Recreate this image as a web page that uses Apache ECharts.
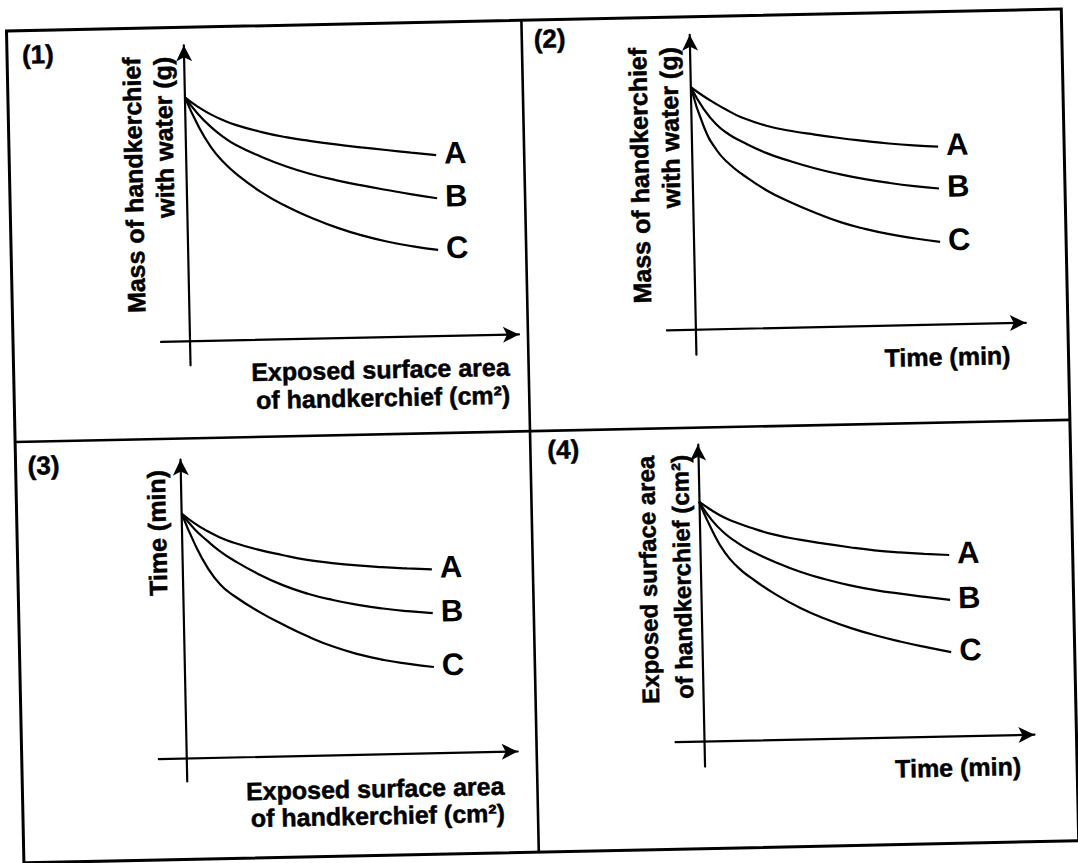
<!DOCTYPE html>
<html>
<head>
<meta charset="utf-8">
<script src="https://cdn.jsdelivr.net/npm/echarts@6/dist/echarts.min.js"></script>
<style>
html, body { margin: 0; padding: 0; background: #fff; overflow: hidden; }
#chart { width: 1078px; height: 863px; transform: rotate(-1.2deg); transform-origin: 539px 431.5px; }
</style>
</head>
<body>
<div id="chart"></div>
<script>
// ---- data (arbitrary units, every curve starts at (0, 10)) ----
const xs = [0, 0.5, 1, 1.5, 2, 3, 4, 5, 6, 7, 8, 9, 10];
const seriesNames = ['A', 'B', 'C'];

const p1A = [10, 9.61, 9.29, 9.04, 8.83, 8.52, 8.28, 8.10, 7.94, 7.80, 7.67, 7.54, 7.42];
const p1B = [10, 9.32, 8.78, 8.35, 8.00, 7.50, 7.08, 6.74, 6.47, 6.24, 6.03, 5.83, 5.65];
const p1C = [10, 8.84, 7.94, 7.30, 6.81, 6.03, 5.43, 4.94, 4.52, 4.18, 3.91, 3.70, 3.53];

const p2A = [10, 9.63, 9.30, 9.00, 8.73, 8.36, 8.12, 7.94, 7.78, 7.64, 7.51, 7.41, 7.34];
const p2B = [10, 9.10, 8.45, 8.03, 7.73, 7.23, 6.86, 6.54, 6.28, 6.06, 5.88, 5.73, 5.61];
const p2C = [10, 8.35, 7.38, 6.80, 6.38, 5.68, 5.15, 4.70, 4.30, 4.00, 3.76, 3.57, 3.41];

const p3A = [10, 9.60, 9.27, 9.00, 8.79, 8.47, 8.22, 8.00, 7.85, 7.73, 7.64, 7.57, 7.51];
const p3B = [10, 9.36, 8.87, 8.43, 8.08, 7.48, 6.99, 6.62, 6.34, 6.12, 5.95, 5.82, 5.72];
const p3C = [10, 8.75, 7.76, 7.06, 6.62, 5.94, 5.37, 4.86, 4.43, 4.10, 3.85, 3.67, 3.52];

const p4A = [10, 9.63, 9.32, 9.09, 8.89, 8.56, 8.33, 8.14, 7.97, 7.82, 7.71, 7.63, 7.56];
const p4B = [10, 9.22, 8.66, 8.26, 7.93, 7.42, 6.99, 6.66, 6.38, 6.16, 5.99, 5.84, 5.69];
const p4C = [10, 8.80, 7.85, 7.24, 6.80, 6.07, 5.47, 5.00, 4.60, 4.27, 3.99, 3.74, 3.51];

const panelNumbers = ['(1)', '(2)', '(3)', '(4)'];
const yTitles = [
  ['Mass of handkerchief', 'with water (g)'],
  ['Mass of handkerchief', 'with water (g)'],
  ['Time (min)'],
  ['Exposed surface area', 'of handkerchief (cm\u00B2)']
];
const xTitles = [
  ['Exposed surface area', 'of handkerchief (cm\u00B2)'],
  ['Time (min)'],
  ['Exposed surface area', 'of handkerchief (cm\u00B2)'],
  ['Time (min)']
];
const panelSeries = [[p1A, p1B, p1C], [p2A, p2B, p2C], [p3A, p3B, p3C], [p4A, p4B, p4C]];

// ---- layout (pixels, page space before the slight scan tilt) ----
const FONT = "'Liberation Sans', Arial, Helvetica, sans-serif";
const LABEL_FONT = "'Liberation Sans Narrow', 'Liberation Sans', Arial, sans-serif";
const ARROW = [12, 16];
const layout = [
  { ox: 192, oy: 334, ux: 25, uy: 24.4, left: 163, tipR: 529, tipT: 30, bottom: 358,
    num: [30, 44], yt: { x: 154.5, top: 49, lh: 31, fs: 25 }, xt: { right: 511, cy: 380, lh: 28, fs: 25 } },
  { ox: 698, oy: 333, ux: 24.6, uy: 24.25, left: 669, tipR: 1036, tipT: 30, bottom: 358,
    num: [542, 39], yt: { x: 660.5, top: 50, lh: 31, fs: 25 }, xt: { right: 1012, cy: 365, lh: 28, fs: 25 } },
  { ox: 180, oy: 751, ux: 24.9, uy: 24.5, left: 152, tipR: 519, tipT: 444, bottom: 774,
    num: [27, 455], yt: { x: 155, top: 462, lh: 30, fs: 25 }, xt: { right: 497, cy: 798.5, lh: 27, fs: 25 } },
  { ox: 697.5, oy: 745, ux: 24.9, uy: 24.0, left: 669, tipR: 1036, tipT: 440, bottom: 770,
    num: [547, 450], yt: { x: 662, top: 458, lh: 34, fs: 24 }, xt: { right: 1014, cy: 776, lh: 28, fs: 25 } }
];

const grids = [], xAxes = [], yAxes = [], series = [], graphics = [];

function axisCommon() {
  return {
    type: 'value',
    axisLine: { show: true, onZero: true, symbol: ['none', 'arrow'], symbolSize: ARROW,
      lineStyle: { color: '#000', width: 2.2 } },
    axisTick: { show: false }, axisLabel: { show: false }, splitLine: { show: false }
  };
}

function textStyle(text, size, align, lh) {
  return { text: text, fill: '#000', fontSize: size, fontWeight: 'bold', fontFamily: FONT,
    lineHeight: lh, align: align, textAlign: align, verticalAlign: 'middle', textVerticalAlign: 'middle',
    stroke: '#000', lineWidth: 0.5 };
}

layout.forEach(function (p, i) {
  const half = ARROW[1] / 2;
  grids.push({ left: p.left, top: p.tipT + half, width: (p.tipR - half) - p.left,
    height: p.bottom - (p.tipT + half), outerBoundsMode: 'none', containLabel: false });
  xAxes.push(Object.assign(axisCommon(), { gridIndex: i,
    min: (p.left - p.ox) / p.ux, max: (p.tipR - half - p.ox) / p.ux }));
  yAxes.push(Object.assign(axisCommon(), { gridIndex: i,
    min: (p.oy - p.bottom) / p.uy, max: (p.oy - p.tipT - half) / p.uy }));

  panelSeries[i].forEach(function (vals, k) {
    series.push({
      type: 'line', name: seriesNames[k], xAxisIndex: i, yAxisIndex: i,
      data: xs.map(function (x, j) { return [x, vals[j]]; }),
      smooth: 0.5, showSymbol: false, symbol: 'none', silent: true,
      lineStyle: { color: '#000', width: 2.2 },
      endLabel: { show: true, formatter: seriesNames[k], distance: 8, offset: [0, -2],
        color: '#000', fontSize: 31, fontWeight: 'bold', fontFamily: LABEL_FONT }
    });
  });

  graphics.push({ type: 'text', x: p.num[0], y: p.num[1], silent: true,
    style: textStyle(panelNumbers[i], 26, 'left', 30) });
  graphics.push({ type: 'text', x: p.yt.x, y: p.yt.top, rotation: Math.PI / 2, silent: true,
    style: textStyle(yTitles[i].join('\n'), p.yt.fs, 'right', p.yt.lh) });
  graphics.push({ type: 'text', x: p.xt.right, y: p.xt.cy, silent: true,
    style: textStyle(xTitles[i].join('\n'), p.xt.fs, 'right', p.xt.lh) });
});

// outer frame and dividers of the 2x2 table
graphics.push({ type: 'rect', silent: true, shape: { x: 15, y: 20, width: 1055, height: 832 },
  style: { fill: 'none', stroke: '#000', lineWidth: 3 } });
graphics.push({ type: 'line', silent: true, shape: { x1: 530, y1: 20, x2: 530, y2: 852 },
  style: { stroke: '#000', lineWidth: 2.6 } });
graphics.push({ type: 'line', silent: true, shape: { x1: 15, y1: 431, x2: 1070, y2: 431 },
  style: { stroke: '#000', lineWidth: 2.6 } });

const chart = echarts.init(document.getElementById('chart'), null, { renderer: 'svg' });
chart.setOption({
  backgroundColor: '#fff',
  animation: false,
  grid: grids, xAxis: xAxes, yAxis: yAxes, series: series,
  graphic: { elements: graphics }
});
</script>
</body>
</html>
